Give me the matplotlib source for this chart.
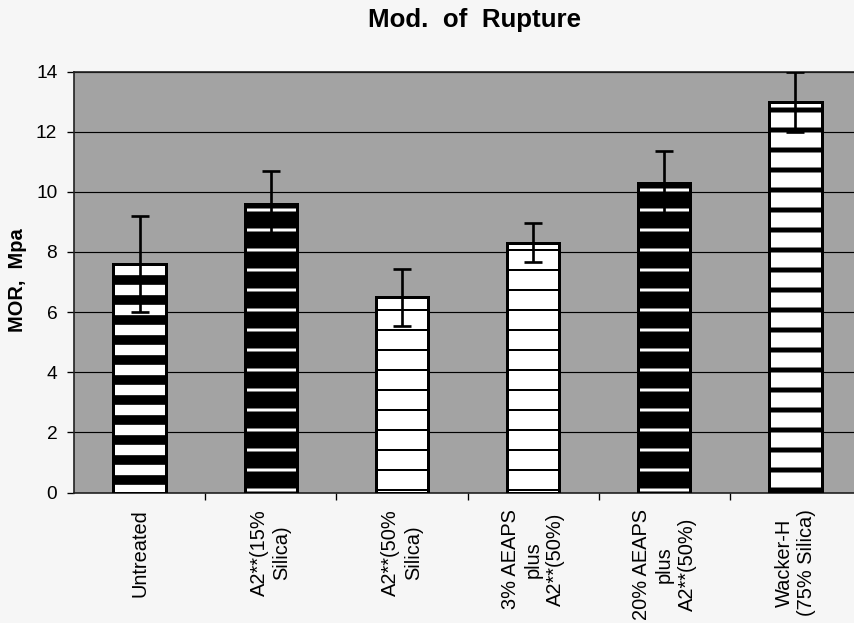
import matplotlib
matplotlib.use("Agg")
import matplotlib.pyplot as plt
import numpy as np

# ---- data ----
categories = ["Untreated", "A2**(15%\nSilica)", "A2**(50%\nSilica)",
              "3% AEAPS\nplus\nA2**(50%)", "20% AEAPS\nplus\nA2**(50%)",
              "Wacker-H\n(75% Silica)"]
mor_values = [7.6, 9.6, 6.5, 8.3, 10.3, 13.0]
mor_errors = [1.6, 1.1, 0.95, 0.65, 1.05, 1.0]
y_ticks = [0, 2, 4, 6, 8, 10, 12, 14]

# ---- styles (per bar) ----
face_colors = ["black", "black", "white", "white", "black", "white"]
stripe_colors = ["white", "white", "black", "black", "white", "black"]
stripe_widths = [6.2, 1.8, 1.2, 1.2, 1.8, 3.0]

DPI = 120
fig = plt.figure(figsize=(854 / DPI, 623 / DPI), dpi=DPI, facecolor="#f6f6f6")
plt.rcParams["font.family"] = ["Liberation Sans", "DejaVu Sans"]

left_px, right_px, top_px, bottom_px = 74, 861, 71.5, 492.6
ax = fig.add_axes([left_px / 854, 1 - bottom_px / 623,
                   (right_px - left_px) / 854, (bottom_px - top_px) / 623])
ax.set_facecolor("#a3a3a3")
ax.set_xlim(-0.5, len(categories) - 0.5)
ax.set_ylim(0, 14)

# grid
ax.set_axisbelow(True)
ax.yaxis.grid(True, color="black", linewidth=0.7)

x = np.arange(len(categories))
width = 0.40
for i in range(len(categories)):
    plt.rcParams["hatch.linewidth"] = stripe_widths[i]
    b = ax.bar(x[i], mor_values[i], width, color=face_colors[i],
               edgecolor=stripe_colors[i], hatch="-", linewidth=0, zorder=2)
    for p in b:
        if hasattr(p, "set_hatch_linewidth"):
            p.set_hatch_linewidth(stripe_widths[i])
    ax.bar(x[i], mor_values[i], width, facecolor="none",
           edgecolor="black", linewidth=1.8, zorder=3)

ax.errorbar(x, mor_values, yerr=mor_errors, fmt="none", ecolor="black",
            elinewidth=1.6, capsize=5.4, capthick=1.6, zorder=4, clip_on=True)

# spines
for s in ["top", "left", "bottom", "right"]:
    ax.spines[s].set_color("#222222")
    ax.spines[s].set_linewidth(1.0)

# ticks
ax.set_yticks(y_ticks)
ax.tick_params(axis="y", direction="out", length=4, width=0.8, pad=6,
               labelsize=11.5, colors="black")
ax.set_xticks(x)
ax.set_xticklabels(categories, rotation=90, ha="center", va="top",
                   multialignment="center", linespacing=1.25, fontsize=12)
ax.tick_params(axis="x", which="major", length=0, pad=10)
ax.set_xticks(np.arange(0.5, len(categories) - 0.5, 1.0), minor=True)
ax.tick_params(axis="x", which="minor", direction="out", length=4, width=0.8)

fig.text(475 / 854, 1 - 20 / 623, "Mod.  of  Rupture", ha="center", va="center",
         fontsize=15.5, fontweight="bold")
fig.text(18 / 854, 1 - 280 / 623, "MOR,  Mpa", ha="center", va="center",
         rotation=90, fontsize=12, fontweight="bold")

fig.savefig("out.png", dpi=DPI, facecolor=fig.get_facecolor())
